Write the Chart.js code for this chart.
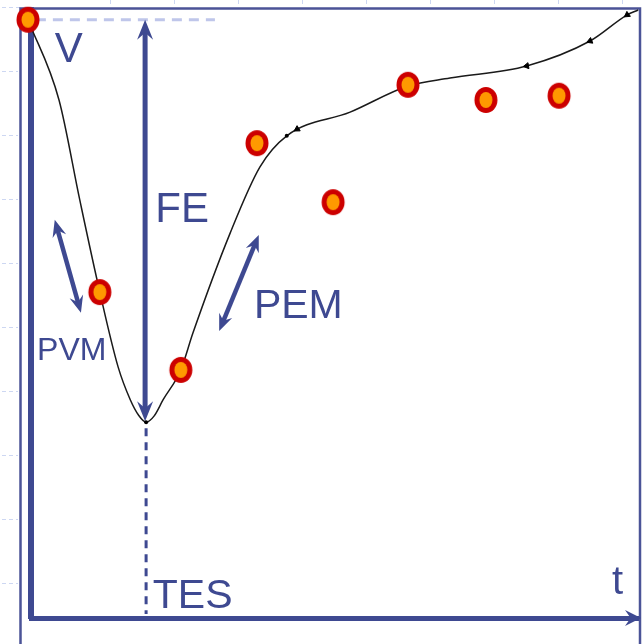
<!DOCTYPE html>
<html>
<head>
<meta charset="utf-8">
<title>Volumen ventricular</title>
<script src="https://cdn.jsdelivr.net/npm/chart.js@4"></script>
<style>
  html, body { margin: 0; padding: 0; background: #fff; }
  #wrap { width: 644px; height: 644px; position: relative; }
</style>
</head>
<body>
<div id="wrap"><canvas id="volChart"></canvas></div>
<script>
// measured points (t, V) on a 0-100 scale
const pointT = [-0.5, 11.3, 24.6, 37.1, 49.6, 61.9, 74.7, 86.7];
const pointV = [98.4, 53.6, 40.8, 78.1, 68.4, 87.7, 85.2, 85.9];

// volume curve
const curveT = [-0.5, 4.6, 8.0, 11.3, 14.3, 16.3, 17.7, 18.9, 20.2, 21.7, 24.6, 26.6, 32.7, 37.6, 42.0, 52.4, 61.9, 68.8, 81.4, 91.8, 97.9, 99.7];
const curveV = [98.4, 85.2, 68.8, 53.6, 41.3, 35.9, 33.3, 32.2, 33.2, 35.9, 40.8, 46.9, 63.3, 74.2, 79.3, 83.2, 87.5, 88.8, 90.8, 94.9, 99.2, 100];

// direction arrows drawn on the curve
const markT = [43.7, 81.4, 91.8, 97.9];
const markV = [80.4, 90.8, 94.9, 99.2];
const markRot = [239, 261, 248, 235];

const blue = '#3e4991';
const red = '#cc0000';
const orange = '#ff9900';

// red ring with orange centre, a bit taller than wide
function makeDot() {
  const c = document.createElement('canvas');
  c.width = 26; c.height = 28;
  const g = c.getContext('2d');
  g.fillStyle = red;
  g.beginPath(); g.ellipse(13, 14, 11.5, 13, 0, 0, Math.PI * 2); g.fill();
  g.fillStyle = orange;
  g.beginPath(); g.ellipse(13, 14, 6.5, 8, 0, 0, Math.PI * 2); g.fill();
  return c;
}

function head(ctx, x, y, ang, len, half) {
  ctx.save();
  ctx.translate(x, y);
  ctx.rotate(ang);
  ctx.beginPath();
  ctx.moveTo(0, 0);
  ctx.lineTo(-len, -half);
  ctx.lineTo(-len * 0.65, 0);
  ctx.lineTo(-len, half);
  ctx.closePath();
  ctx.fill();
  ctx.restore();
}

function doubleArrow(ctx, x1, y1, x2, y2, w, len, half) {
  const ang = Math.atan2(y2 - y1, x2 - x1);
  const dx = Math.cos(ang) * len * 0.6, dy = Math.sin(ang) * len * 0.6;
  ctx.lineWidth = w;
  ctx.beginPath();
  ctx.moveTo(x1 + dx, y1 + dy);
  ctx.lineTo(x2 - dx, y2 - dy);
  ctx.stroke();
  head(ctx, x2, y2, ang, len, half);
  head(ctx, x1, y1, ang + Math.PI, len, half);
}

const decor = {
  id: 'decor',
  beforeDatasetsDraw(chart) {
    const ctx = chart.ctx;
    const xs = chart.scales.x, ys = chart.scales.y;
    const px = v => xs.getPixelForValue(v);
    const py = v => ys.getPixelForValue(v);
    const area = chart.chartArea;

    ctx.save();
    // faint guide ticks outside the frame
    ctx.strokeStyle = '#cdd7f2';
    ctx.lineWidth = 1;
    ctx.setLineDash([4, 3]);
    for (let y = 71; y < 644; y += 64) {
      ctx.beginPath(); ctx.moveTo(2, y + 0.5); ctx.lineTo(18, y + 0.5); ctx.stroke();
    }
    for (let x = 110; x < 640; x += 64) {
      ctx.beginPath(); ctx.moveTo(x + 0.5, 0); ctx.lineTo(x + 0.5, 7); ctx.stroke();
    }
    ctx.beginPath(); ctx.moveTo(2, 7.5); ctx.lineTo(20, 7.5); ctx.stroke();
    ctx.setLineDash([]);

    // frame
    ctx.strokeStyle = '#4b5397';
    ctx.lineWidth = 2.5;
    ctx.beginPath();
    ctx.moveTo(20.5, 644);
    ctx.lineTo(20.5, 8.5);
    ctx.lineTo(640, 8.5);
    ctx.lineTo(640, 644);
    ctx.stroke();

    // end-diastolic level
    ctx.strokeStyle = '#bfc6ea';
    ctx.lineWidth = 3;
    ctx.setLineDash([10, 7]);
    ctx.beginPath();
    ctx.moveTo(px(0.8), py(pointV[0]));
    ctx.lineTo(px(30.2), py(pointV[0]));
    ctx.stroke();

    // trough (TES)
    const minV = Math.min(...curveV);
    const tes = curveT[curveV.indexOf(minV)];
    ctx.strokeStyle = blue;
    ctx.setLineDash([8, 6]);
    ctx.lineWidth = 3;
    ctx.beginPath();
    ctx.moveTo(px(tes), py(minV) + 6);
    ctx.lineTo(px(tes), area.bottom - 4);
    ctx.stroke();
    ctx.setLineDash([]);

    ctx.fillStyle = blue;
    // FE
    doubleArrow(ctx, px(tes) - 1, py(pointV[0]), px(tes) - 1, py(minV) - 1, 5, 20, 8);
    // PVM and PEM
    doubleArrow(ctx, px(3.9), py(65.5), px(8.2), py(50.2), 4.5, 17, 7);
    doubleArrow(ctx, px(37.4), py(63.0), px(30.9), py(47.2), 4.5, 17, 7);
    // time axis head
    head(ctx, area.right + 1, area.bottom, 0, 16, 8);

    // labels
    ctx.fillStyle = blue;
    ctx.textBaseline = 'alphabetic';
    ctx.textAlign = 'left';
    ctx.font = '42px "Liberation Sans", Arial, sans-serif';
    ctx.fillText('V', px(3.9), py(91.4));
    ctx.fillText('FE', px(20.4), py(65.1));
    ctx.font = '41px "Liberation Sans", Arial, sans-serif';
    ctx.fillText('PEM', px(36.6), py(49.3));
    ctx.fillText('TES', px(20.0), py(1.6));
    ctx.font = '40px "Liberation Sans", Arial, sans-serif';
    ctx.fillText('t', px(95.4), py(3.9));
    ctx.font = '32px "Liberation Sans", Arial, sans-serif';
    ctx.fillText('PVM', px(1.0), py(42.4));
    ctx.restore();
  }
};

const dot = makeDot();

new Chart(document.getElementById('volChart'), {
  type: 'scatter',
  data: {
    datasets: [
      {
        label: 'medidas',
        data: pointT.map((t, i) => ({ x: t, y: pointV[i] })),
        pointStyle: dot,
        pointRadius: 13,
        clip: false,
        order: 0
      },
      {
        label: 'sentido',
        data: markT.map((t, i) => ({ x: t, y: markV[i] })),
        pointStyle: 'triangle',
        rotation: markRot,
        pointRadius: 3.5,
        backgroundColor: '#000',
        borderColor: '#000',
        borderWidth: 1,
        clip: false,
        order: 1
      },
      {
        label: 'volumen',
        type: 'line',
        data: curveT.map((t, i) => ({ x: t, y: curveV[i] })),
        borderColor: '#1a1a1a',
        borderWidth: 1.5,
        cubicInterpolationMode: 'monotone',
        pointRadius: curveT.map((t, i) => (i === 7 || i === 14) ? 2 : 0),
        pointBackgroundColor: '#000',
        pointBorderWidth: 0,
        fill: false,
        clip: false,
        order: 2
      }
    ]
  },
  options: {
    responsive: true,
    maintainAspectRatio: false,
    animation: false,
    layout: { autoPadding: false, padding: { left: 31, right: 4, top: 10, bottom: 26 } },
    plugins: { legend: { display: false }, tooltip: { enabled: false } },
    scales: {
      x: {
        type: 'linear', min: 0, max: 100,
        ticks: { display: false },
        grid: { display: false, drawTicks: false },
        border: { display: true, color: blue, width: 5 }
      },
      y: {
        type: 'linear', min: 0, max: 100,
        ticks: { display: false },
        grid: { display: false, drawTicks: false },
        border: { display: true, color: blue, width: 6 }
      }
    }
  },
  plugins: [decor]
});
</script>
</body>
</html>
